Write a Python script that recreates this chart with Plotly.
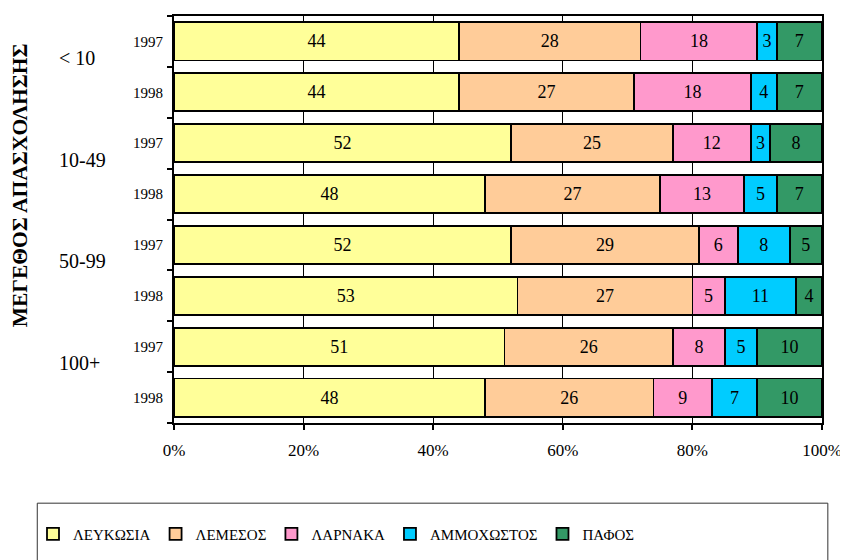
import plotly.graph_objects as go

groups = ["< 10", "10-49", "50-99", "100+"]
years = ["1997", "1998"]
series_names = ["ΛΕΥΚΩΣΙΑ", "ΛΕΜΕΣΟΣ", "ΛΑΡΝΑΚΑ", "ΑΜΜΟΧΩΣΤΟΣ", "ΠΑΦΟΣ"]
colors = ["#FFFF99", "#FFCC99", "#FF99CC", "#00CCFF", "#339966"]

# values per bar in order: <10 1997, <10 1998, 10-49 1997, 10-49 1998, ...
lefkosia = [44, 44, 52, 48, 52, 53, 51, 48]
lemesos = [28, 27, 25, 27, 29, 27, 26, 26]
larnaka = [18, 18, 12, 13, 6, 5, 8, 9]
ammochostos = [3, 4, 3, 5, 8, 11, 5, 7]
pafos = [7, 7, 8, 7, 5, 4, 10, 10]
series_values = [lefkosia, lemesos, larnaka, ammochostos, pafos]

cats = [f"{g} {y}" for g in groups for y in years]
tick_text = [y for g in groups for y in years]

FONT = "Liberation Serif"

fig = go.Figure()
for name, vals, col in zip(series_names, series_values, colors):
    fig.add_trace(go.Bar(
        y=cats, x=vals, name=name, orientation="h",
        marker=dict(color=col, line=dict(color="black", width=1.8)),
        text=[str(v) for v in vals], textposition="inside",
        insidetextanchor="middle", textangle=0,
        textfont=dict(family=FONT, size=18, color="black"),
        constraintext="none", cliponaxis=False,
    ))

annotations = []
for i, g in enumerate(groups):
    annotations.append(dict(
        x=-0.181, xref="paper", xanchor="left",
        y=2 * i + 0.5, yref="y", yshift=9,
        text=g, showarrow=False,
        font=dict(family=FONT, size=20, color="black"),
    ))
annotations.append(dict(
    x=-0.2377, xref="paper", xanchor="center",
    y=0.584, yref="paper", yanchor="middle",
    text="<b>ΜΕΓΕΘΟΣ ΑΠΑΣΧΟΛΗΣΗΣ</b>", textangle=-90, showarrow=False,
    font=dict(family=FONT, size=21.5, color="black"),
))

fig.update_layout(
    width=840, height=552,
    margin=dict(l=166, r=26, t=8, b=137, autoexpand=False),
    barmode="stack", bargap=0.25,
    plot_bgcolor="white", paper_bgcolor="white",
    font=dict(family=FONT, size=16, color="black"),
    showlegend=True,
    legend=dict(
        orientation="h", x=-0.2176, xanchor="left",
        y=-0.273, yanchor="middle",
        font=dict(family=FONT, size=15, color="black"),
        bgcolor="rgba(0,0,0,0)", traceorder="normal",
        itemclick=False, itemwidth=30,
    ),
    annotations=annotations,
    shapes=[dict(
        type="rect", xref="paper", yref="paper",
        x0=-0.211, x1=1.009, y0=-0.197, y1=-0.40,
        line=dict(color="#333333", width=1), fillcolor="rgba(0,0,0,0)",
    )],
    xaxis=dict(
        range=[0, 100], tickvals=[0, 20, 40, 60, 80, 100],
        ticktext=["0%", "20%", "40%", "60%", "80%", "100%"],
        showgrid=True, gridcolor="black", gridwidth=1,
        showline=True, linecolor="black", linewidth=2, mirror=True,
        ticks="outside", ticklen=5, tickcolor="black", tickwidth=1.5,
        tickfont=dict(family=FONT, size=17, color="black"),
        zeroline=False, fixedrange=True, ticklabelstandoff=6,
    ),
    yaxis=dict(
        type="category", autorange="reversed",
        tickvals=cats, ticktext=tick_text,
        tickson="boundaries", ticks="outside", ticklen=5,
        tickcolor="black", tickwidth=1.5,
        showline=True, linecolor="black", linewidth=2, mirror=True,
        showgrid=False, ticklabelstandoff=6,
        tickfont=dict(family=FONT, size=15, color="black"),
    ),
)

fig.write_html("out.html")
